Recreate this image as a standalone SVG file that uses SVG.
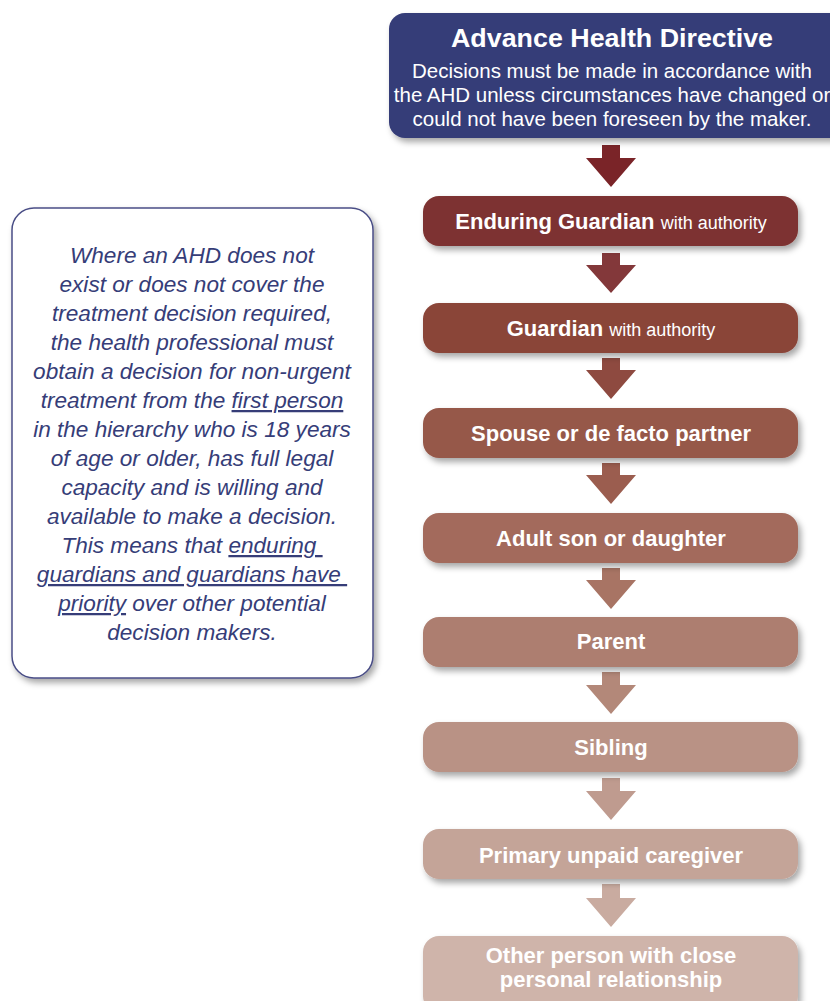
<svg xmlns="http://www.w3.org/2000/svg" width="830" height="1001" viewBox="0 0 830 1001">
<style>
.sans{font-family:"Liberation Sans",Arial,sans-serif}
.lbl{font-family:"Liberation Sans",Arial,sans-serif;font-weight:bold;font-size:22px;fill:#fff;text-anchor:middle}
.sm{font-weight:normal;font-size:18px}
.note{font-family:"Liberation Sans",Arial,sans-serif;font-style:italic;font-size:22.6px;fill:#363d78;text-anchor:middle;white-space:pre}
</style>
<defs>
<filter id="sh" x="-10%" y="-20%" width="130%" height="160%">
<feDropShadow dx="3" dy="4" stdDeviation="3" flood-color="#000" flood-opacity="0.35"/>
</filter>
</defs>
<rect width="830" height="1001" fill="#fff"/>
<g id="note">
<rect x="12" y="208" width="361" height="470" rx="22" fill="#fff" stroke="#4a4e86" stroke-width="1.5" filter="url(#sh)"/>
<text class="note" x="192" y="263">Where an AHD does not</text>
<text class="note" x="192" y="292">exist or does not cover the</text>
<text class="note" x="192" y="321">treatment decision required,</text>
<text class="note" x="192" y="350">the health professional must</text>
<text class="note" x="192" y="379">obtain a decision for non-urgent</text>
<text class="note" x="192" y="408">treatment from the <tspan text-decoration="underline">first person</tspan></text>
<text class="note" x="192" y="437">in the hierarchy who is 18 years</text>
<text class="note" x="192" y="466">of age or older, has full legal</text>
<text class="note" x="192" y="495">capacity and is willing and</text>
<text class="note" x="192" y="524">available to make a decision.</text>
<text class="note" x="192" y="553">This means that <tspan text-decoration="underline">enduring </tspan></text>
<text class="note" x="192" y="582"><tspan text-decoration="underline">guardians and guardians have </tspan></text>
<text class="note" x="192" y="611"><tspan text-decoration="underline">priority</tspan> over other potential</text>
<text class="note" x="192" y="640">decision makers.</text>
</g>
<g id="connectors">
<path d="M602,145 H620 V158 H636 L611,187 L586,158 H602 Z" fill="#7a2428"/>
<path d="M602,253 H620 V265 H636 L611,293 L586,265 H602 Z" fill="#83383a"/>
<path d="M602,358 H620 V370 H636 L611,399 L586,370 H602 Z" fill="#8e4a40"/>
<path d="M602,463 H620 V475 H636 L611,504 L586,475 H602 Z" fill="#9b5d4f"/>
<path d="M602,568 H620 V580 H636 L611,609 L586,580 H602 Z" fill="#a87464"/>
<path d="M602,672 H620 V685 H636 L611,714 L586,685 H602 Z" fill="#b38879"/>
<path d="M602,778 H620 V791 H636 L611,820 L586,791 H602 Z" fill="#bf9b8f"/>
<path d="M602,884 H620 V898 H636 L611,927 L586,898 H602 Z" fill="#c9aba0"/>
</g>
<g id="ahd">
<rect x="389" y="13" width="460" height="125" rx="16" fill="#363d78" filter="url(#sh)"/>
<text class="sans" x="612" y="47" font-size="25" font-weight="bold" fill="#fff" text-anchor="middle" textLength="322" lengthAdjust="spacingAndGlyphs">Advance Health Directive</text>
<text class="sans" x="612" y="78" font-size="20.5" fill="#fff" text-anchor="middle">Decisions must be made in accordance with</text>
<text class="sans" x="612" y="102" font-size="20.5" fill="#fff" text-anchor="middle">the AHD unless circumstances have changed or</text>
<text class="sans" x="612" y="126" font-size="20.5" fill="#fff" text-anchor="middle">could not have been foreseen by the maker.</text>
</g>
<g id="enduring-guardian">
<rect x="423" y="196" width="375" height="50" rx="16" fill="#7d3330" filter="url(#sh)"/>
<text class="lbl" x="611" y="229">Enduring Guardian <tspan class="sm">with authority</tspan></text>
</g>
<g id="guardian">
<rect x="423" y="303" width="375" height="50" rx="16" fill="#8a4439" filter="url(#sh)"/>
<text class="lbl" x="611" y="336">Guardian <tspan class="sm">with authority</tspan></text>
</g>
<g id="spouse">
<rect x="423" y="408" width="375" height="50" rx="16" fill="#96584a" filter="url(#sh)"/>
<text class="lbl" x="611" y="441">Spouse or de facto partner</text>
</g>
<g id="adult-child">
<rect x="423" y="513" width="375" height="50" rx="16" fill="#a36b5c" filter="url(#sh)"/>
<text class="lbl" x="611" y="546">Adult son or daughter</text>
</g>
<g id="parent">
<rect x="423" y="617" width="375" height="50" rx="16" fill="#ad7e70" filter="url(#sh)"/>
<text class="lbl" x="611" y="649">Parent</text>
</g>
<g id="sibling">
<rect x="423" y="722" width="375" height="50" rx="16" fill="#b99285" filter="url(#sh)"/>
<text class="lbl" x="611" y="755">Sibling</text>
</g>
<g id="caregiver">
<rect x="423" y="829" width="375" height="50" rx="16" fill="#c4a498" filter="url(#sh)"/>
<text class="lbl" x="611" y="863">Primary unpaid caregiver</text>
</g>
<g id="other-person">
<rect x="423" y="936" width="375" height="76" rx="16" fill="#cfb4aa" filter="url(#sh)"/>
<text class="lbl" x="611" y="963" font-size="21.5">Other person with close</text>
<text class="lbl" x="611" y="987" font-size="21.5">personal relationship</text>
</g>
</svg>
